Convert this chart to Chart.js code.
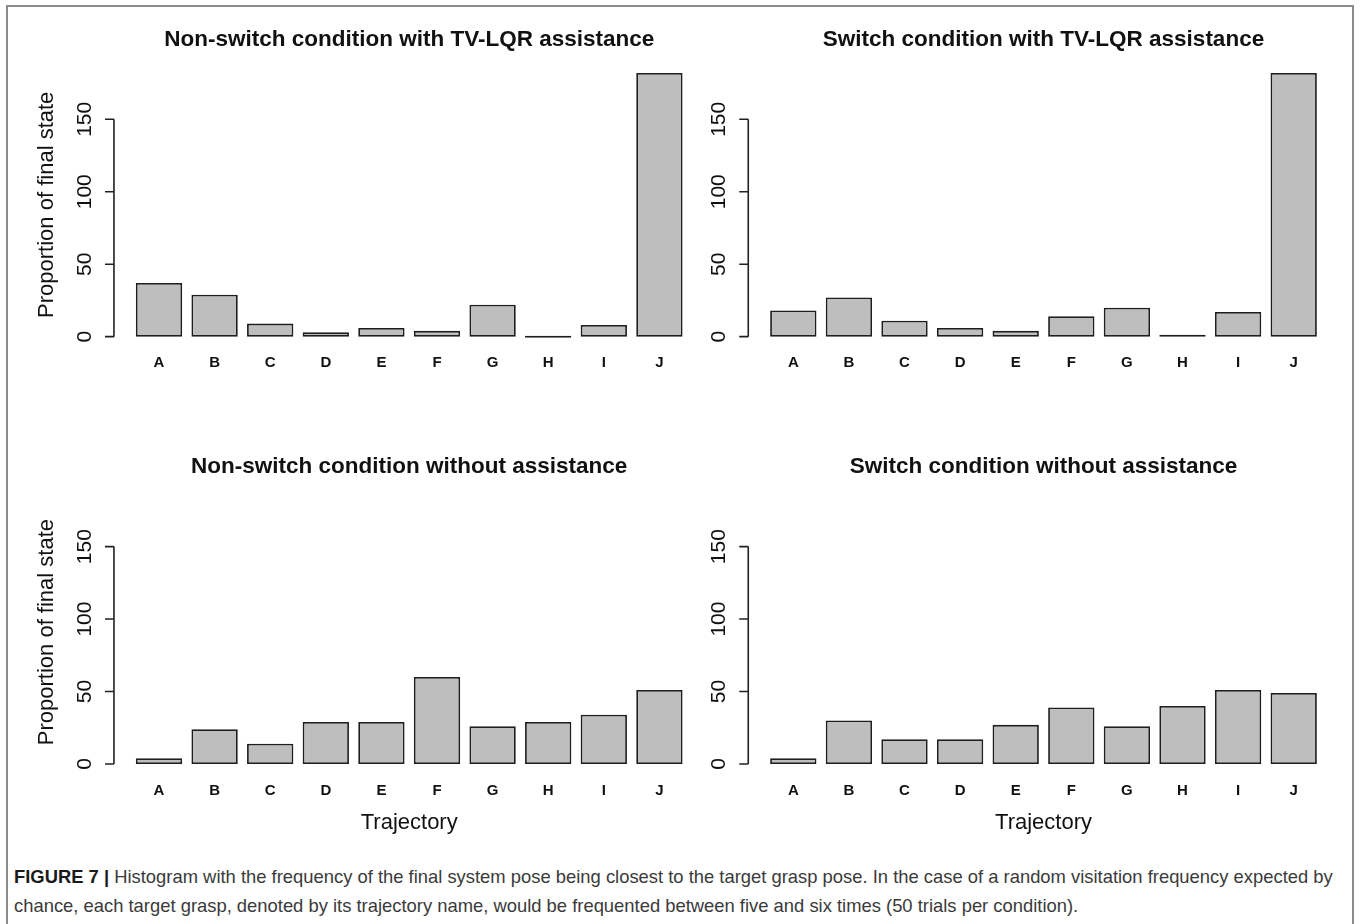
<!DOCTYPE html>
<html>
<head>
<meta charset="utf-8">
<script src="https://cdn.jsdelivr.net/npm/chart.js@4"></script>
<style>
  body { margin: 0; background: #fff; width: 1360px; height: 924px; overflow: hidden; position: relative; }
  .frame { position: absolute; left: 6px; top: 5px; width: 1348px; height: 960px; border: 2px solid #8c8c8c; box-sizing: border-box; }
  canvas { position: absolute; }
  #caption { position: absolute; left: 14px; top: 862px; font-family: 'Liberation Sans', Arial, sans-serif; font-size: 18.4px; line-height: 29px; color: #3a3a3a; white-space: nowrap; }
  #caption b { color: #1a1a1a; }
</style>
</head>
<body>
<div class="frame"></div>
<canvas id="c1" width="700" height="420" style="left:0;top:0"></canvas>
<canvas id="c2" width="660" height="420" style="left:700px;top:0"></canvas>
<canvas id="c3" width="700" height="440" style="left:0;top:420px"></canvas>
<canvas id="c4" width="660" height="440" style="left:700px;top:420px"></canvas>
<div id="caption"><b>FIGURE 7 |</b> Histogram with the frequency of the final system pose being closest to the target grasp pose. In the case of a random visitation frequency expected by<br>chance, each target grasp, denoted by its trajectory name, would be frequented between five and six times (50 trials per condition).</div>
<script>
// Data
const categories = ['A', 'B', 'C', 'D', 'E', 'F', 'G', 'H', 'I', 'J'];
const nonSwitchTvlqr = [37, 29, 9, 3, 6, 4, 22, 0, 8, 182];
const switchTvlqr = [18, 27, 11, 6, 4, 14, 20, 1, 17, 182];
const nonSwitchNone = [4, 24, 14, 29, 29, 60, 26, 29, 34, 51];
const switchNone = [4, 30, 17, 17, 27, 39, 26, 40, 51, 49];
const yTicks = [0, 50, 100, 150];
const panelTitles = [
    'Non-switch condition with TV-LQR assistance',
    'Switch condition with TV-LQR assistance',
    'Non-switch condition without assistance',
    'Switch condition without assistance'
];
const yTitle = 'Proportion of final state';
const xTitle = 'Trajectory';

const FONT = "'Liberation Sans', Arial, Helvetica, sans-serif";

// R-style axes, drawn from the chart's own scales
const rAxes = {
    id: 'rAxes',
    afterDraw(chart, args, opts) {
        const ctx = chart.ctx;
        const a = chart.chartArea;
        const xs = chart.scales.x, ys = chart.scales.y;
        const unit = (a.right - a.left) / 12;
        const axisX = a.left - 0.372 * unit;
        const cx = (a.left + a.right) / 2;

        ctx.save();
        ctx.strokeStyle = '#222';
        ctx.fillStyle = '#111';
        ctx.lineWidth = 1.6;

        // y axis line + ticks
        ctx.beginPath();
        ctx.moveTo(axisX, ys.getPixelForValue(yTicks[0]));
        ctx.lineTo(axisX, ys.getPixelForValue(yTicks[yTicks.length - 1]));
        yTicks.forEach(t => {
            const py = ys.getPixelForValue(t);
            ctx.moveTo(axisX, py);
            ctx.lineTo(axisX - 9, py);
        });
        ctx.stroke();

        ctx.font = '21px ' + FONT;
        ctx.textAlign = 'center';
        ctx.textBaseline = 'middle';
        yTicks.forEach(t => {
            const py = ys.getPixelForValue(t);
            ctx.save();
            ctx.translate(axisX - 29, py);
            ctx.rotate(-Math.PI / 2);
            ctx.fillText(String(t), 0, 0);
            ctx.restore();
        });

        // category labels
        ctx.font = 'bold 15px ' + FONT;
        categories.forEach((c, i) => {
            ctx.fillText(c, xs.getPixelForValue(i), a.bottom + 16);
        });

        // main title
        ctx.font = 'bold 22.5px ' + FONT;
        ctx.fillText(opts.title, cx, a.top - 22.5);

        if (opts.yTitle) {
            ctx.font = '22px ' + FONT;
            ctx.save();
            ctx.translate(axisX - 67, (a.top + a.bottom) / 2);
            ctx.rotate(-Math.PI / 2);
            ctx.fillText(yTitle, 0, 0);
            ctx.restore();
        }
        if (opts.xTitle) {
            ctx.font = '22px ' + FONT;
            ctx.fillText(xTitle, cx, a.bottom + 48.5);
        }
        ctx.restore();
    }
};

function makePanel(id, values, title, padding, showY, showX) {
    const ctx = document.getElementById(id).getContext('2d');
    return new Chart(ctx, {
        type: 'bar',
        data: {
            labels: categories,
            datasets: [{
                data: values,
                backgroundColor: '#bebebe',
                borderColor: '#1e1e1e',
                borderWidth: 1.8,
                borderSkipped: false,
                minBarLength: 2,
                categoryPercentage: 1,
                barPercentage: 1 / 1.2
            }]
        },
        options: {
            responsive: false,
            animation: false,
            events: [],
            layout: { padding: padding },
            plugins: {
                legend: { display: false },
                tooltip: { enabled: false },
                rAxes: { title: title, yTitle: showY, xTitle: showX }
            },
            scales: {
                x: { display: false },
                y: { display: false, min: -7.28, max: 189.28 }
            }
        },
        plugins: [rAxes]
    });
}

makePanel('c1', nonSwitchTvlqr, panelTitles[0], { left: 131.2, right: 12.8, top: 62.4, bottom: 72.8 }, true, false);
makePanel('c2', switchTvlqr, panelTitles[1], { left: 65.5, right: 38.5, top: 62.4, bottom: 72.8 }, false, false);
makePanel('c3', nonSwitchNone, panelTitles[2], { left: 131.2, right: 12.8, top: 69.7, bottom: 85.5 }, true, true);
makePanel('c4', switchNone, panelTitles[3], { left: 65.5, right: 38.5, top: 69.7, bottom: 85.5 }, false, true);
</script>
</body>
</html>
